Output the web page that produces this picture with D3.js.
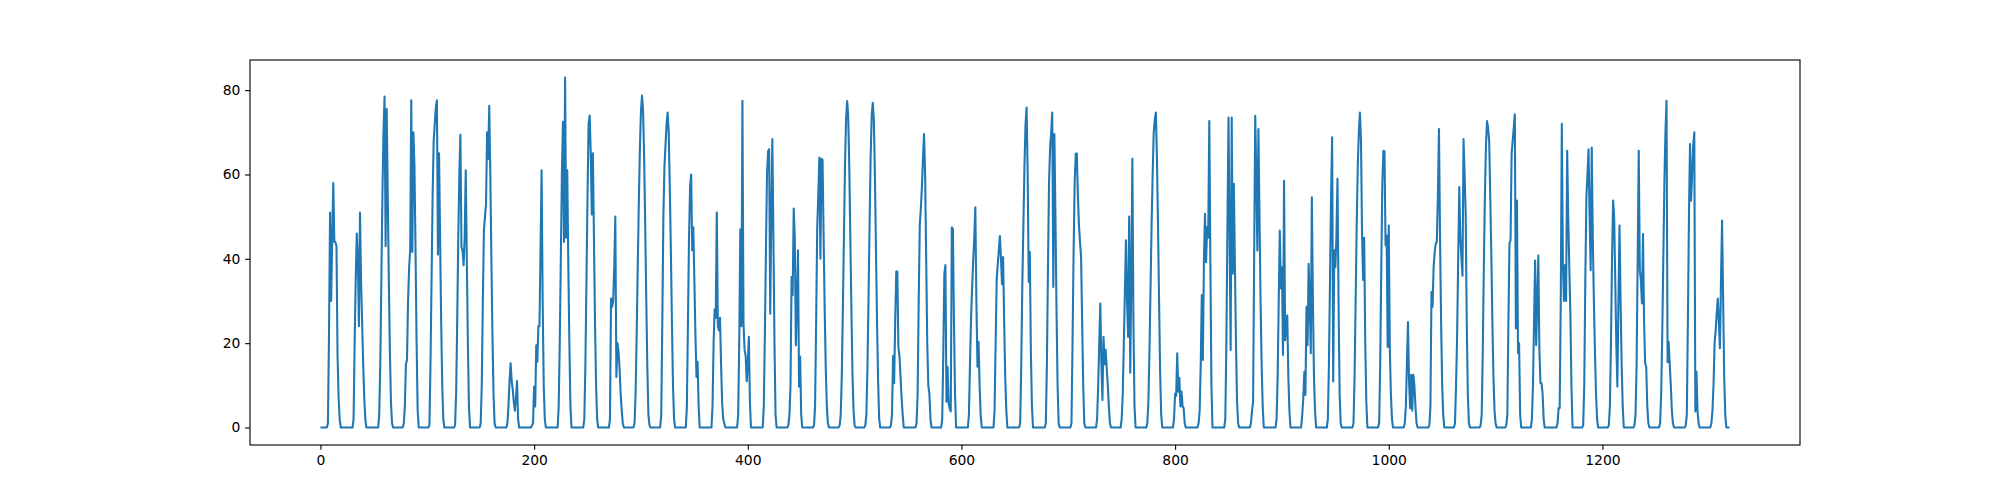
<!DOCTYPE html>
<html>
<head>
<meta charset="utf-8">
<script src="https://cdn.jsdelivr.net/npm/d3@7"></script>
<style>
  body { margin: 0; background: #fff; }
  svg { display: block; }
</style>
</head>
<body>
<svg></svg>
<script>
// hourly values, one row per day (24 values each)
const values = [
  0,0,0,0,0,0,0,1,22,51,30,45,58,44,44,43,17,7,2,0,0,0,0,0,
  0,0,0,0,0,0,0,2,20,35,46,40,24,51,35,25,15,7,2,0,0,0,0,0,
  0,0,0,0,0,0,0,3,15,35,55,70,78.5,43,75.5,55,35,18,6,1,0,0,0,0,
  0,0,0,0,0,0,1,5,15,16,30,38,42,77.6,41.6,70,62,42,20,4,0,0,0,0,
  0,0,0,0,0,0,0.5,15,35,55,68,72,76,77.6,41,65,45,25,10,2,0,0,0,0,
  0,0,0,0,0,0,0.5,8,25,45,60,69.4,42.8,42,38.5,45,61,40,20,5,0,0,0,0,
  0,0,0,0,0,0,1,10,30,46.7,50,53,70,63.7,76.3,60,40,22,8,1,0,0,0,0,
  0,0,0,0,0,0,0,1,5,11,15.2,11,9,6,4,7,11,2,0,0,0,0,0,0,
  0,0,0,0,0,0,0.5,1,9.7,5,19.5,15.6,24,24,42,61,30,10,2,0,0,0,0,0,
  0,0,0,0,0,0,0,5,20,40,60,72.5,44,83,45,61,39,20,5,0,0,0,0,0,
  0,0,0,0,0,0,0,2,15,35,55,72,74,65,50.5,65,45,25,10,2,0,0,0,0,
  0,0,0,0,0,0,0,2,30.6,28.6,30,38,50,12,20,18,14,8,4,1,0,0,0,0,
  0,0,0,0,0,0,1,8,22,38,53,66,75,78.7,75,64,48,30,14,3,0.5,0,0,0,
  0,0,0,0,0,0,0,3,25,50,62,67,72,74.7,70,57,42,25,10,2,0,0,0,0,
  0,0,0,0,0,0,0,5,25,45,57,60,42,47.5,35,22,12,15.6,5,0,0,0,0,0,
  0,0,0,0,0,0,0,5,20,28,26,51,24,23,26,15,6,2,1,0,0,0,0,0,
  0,0,0,0,0,0,0,3,20,47,24,77.5,24.7,18.4,17,11,15,21.5,6,0,0,0,0,0,
  0,0,0,0,0,0,0,5,22,42,60,65.5,66,27,50,68.4,45,20,3,0,0,0,0,0,
  0,0,0,0,0,0,0.5,3,10,35.7,31.4,51.9,45,19.5,30,42,9.7,16.8,3,0,0,0,0,0,
  0,0,0,0,0,0,0.5,5,25,47.5,55,64,40,63.7,63.5,45,28,14,5,1,0,0,0,0,
  0,0,0,0,0,0,0.5,3,12,28,45,62,73,77.4,74,62,45,28,13,4,0.5,0,0,0,
  0,0,0,0,0,0,0.5,3,14,30,48,64,74,77,73,60,42,25,11,2,0,0,0,0,
  0,0,0,0,0,0,0.5,3,17,10.5,25,37,37,19,17,12,7,3,0,0,0,0,0,0,
  0,0,0,0,0,0,1,8,30,48,52,57,64,69.6,60,40,20,10,8,2,0,0,0,0,
  0,0,0,0,0,0,2,17,36.5,38.5,6.1,14.4,5.8,4.5,3.8,47.5,47,25,8,0,0,0,0,0,
  0,0,0,0,0,0,0,3,15,25.8,33,39.6,45,52.2,30,14.4,20.3,10,3,0,0,0,0,0,
  0,0,0,0,0,0,0,4,20,35,38.8,42,45.4,40,34,40.4,25,12,4,0,0,0,0,0,
  0,0,0,0,0,0,0,1,15,34,48,62,72,75.9,60,34.5,41.6,18,5,0,0,0,0,0,
  0,0,0,0,0,0,0,1,15,38,58,66.4,70,74.7,33.3,69.6,50,28,10,1,0,0,0,0,
  0,0,0,0,0,0,0,1,20,42,58,64.9,65,55,48,44,40.4,25,10,1,0,0,0,0,
  0,0,0,0,0,0,0,2,10,20,29.4,15,6.5,21.5,15,18.4,14,10,5,1,0,0,0,0,
  0,0,0,0,0,0,2,8,20,32,44.4,30,21.5,50,13,35,63.7,25,5,0,0,0,0,0,
  0,0,0,0,0,0,1,6,18,33,48,60,70,73,74.7,64,48,30,13,3,0,0,0,0,
  0,0,0,0,0,0,0,2,8,7.5,17.6,8.5,11.7,5,8.5,5,4.6,1,0,0,0,0,0,0,
  0,0,0,0,0,0,1,4,15,31.4,16,40,50.7,39.2,47.5,45,72.7,40,10,0,0,0,0,0,
  0,0,0,0,0,0,0,2,20,48,73.5,45,18.4,73.5,36.5,57.8,38,20,6,1,0,0,0,0,
  0,0,0,0,0,0,0,1,4,6,40,73.9,60,42,70.8,50,30,15,5,0,0,0,0,0,
  0,0,0,0,0,0,0,2,12,30,46.7,33,38,17.2,58.5,20.7,24,26.6,12,4,0,0,0,0,
  0,0,0,0,0,0,0,3,7,13.2,7.7,28.6,19.5,38.8,30,17.6,54.6,30,12,4,0,0,0,0,
  0,0,0,0,0,0,0,2,15,35,55,68.8,10.9,42,38,45,59,30,8,1,0,0,0,0,
  0,0,0,0,0,0,0,1,12,30,48,62,70,74.7,68,46,35,45,20,6,0,0,0,0,
  0,0,0,0,0,0,0,1,15,38,58,65.6,65.5,43.2,45.5,19.1,47.9,18.7,8,2,0,0,0,0,
  0,0,0,0,0,0,0,1,5,15,25,10.9,4.6,12.5,4,12.5,10,5,1,0,0,0,0,0,
  0,0,0,0,0,0,0.5,5,32.2,28.6,38,41.6,43.6,44,55,70.8,45,25,10,3,0,0,0,0,
  0,0,0,0,0,0,1,10,22,40,57,45,40.4,36,68.4,60,50.7,25,8,1,0,0,0,0,
  0,0,0,0,0,0,0.5,3,18,38,55,67,72.7,71,68,55,41.2,25,12,4,1,0,0,0,
  0,0,0,0,0,0,0.5,3,25,43.6,44.4,64.9,68,71,74.3,23.5,53.8,17.6,20,3,0,0,0,0,
  0,0,0,0,0,0,2,10,25,39.6,19.5,30,40.8,18.4,10.5,10.5,8,2,0,0,0,0,0,0,
  0,0,0,0,0,0,1,4.6,4.6,30,72,38.8,30,38.5,30,65.6,50,38,27,10,0,0,0,0,
  0,0,0,0,0,0,0.5,10,35,54.6,60,66,50,37.3,66.4,45,30,18,8,2,0,0,0,0,
  0,0,0,0,0,0,0.5,5,20,40,53.8,49.9,35,20,9.7,30,47.9,30,15,5,0,0,0,0,
  0,0,0,0,0,0,0.5,3,15,40,65.6,37.3,35,29.4,45.9,25,15.2,14.4,5,1,0,0,0,0,
  0,0,0,0,0,0,1,8,22,40,58,70,77.5,15.5,20.3,15.2,10,4,1,0,0,0,0,0,
  0,0,0,0,0,0,0.5,3,25,50,67.2,53.8,60,67,70,3.8,13.2,4,1,0,0,0,0,0,
  0,0,0,0,0,0,1,4,10,20,23,27,30.6,25,18.8,35,49.1,30,12,3,0,0,0,0
];

// tick labels
const xTicks = [0, 200, 400, 600, 800, 1000, 1200];
const yTicks = [0, 20, 40, 60, 80];

// constants
const WIDTH = 2000;
const HEIGHT = 500;
const LEFT = 250;
const RIGHT = 1800;
const TOP = 60;
const BOTTOM = 445;
const PT = 100 / 72;

const svg = d3.select('svg')
    .attr('width', WIDTH)
    .attr('height', HEIGHT);

// scales with matplotlib-like 5% margins
const last = values.length - 1;
const maxV = d3.max(values);
const minV = d3.min(values);
const x = d3.scaleLinear()
    .domain([-0.05 * last, last * 1.05])
    .range([LEFT, RIGHT]);
const y = d3.scaleLinear()
    .domain([minV - 0.05 * (maxV - minV), maxV + 0.05 * (maxV - minV)])
    .range([BOTTOM, TOP]);

// line
const line = d3.line()
    .x((d, i) => x(i))
    .y(d => y(d));

svg.append('path')
    .datum(values)
    .attr('fill', 'none')
    .attr('stroke', '#1f77b4')
    .attr('stroke-width', 1.5 * PT)
    .attr('stroke-linejoin', 'round')
    .attr('d', line);

// axes
const xAxis = d3.axisBottom(x)
    .tickValues(xTicks)
    .tickSize(3.5 * PT)
    .tickPadding(3.5 * PT)
    .tickFormat(d3.format('d'));
const yAxis = d3.axisLeft(y)
    .tickValues(yTicks)
    .tickSize(3.5 * PT)
    .tickPadding(3.5 * PT)
    .tickFormat(d3.format('d'));

const gx = svg.append('g')
    .attr('transform', `translate(0, ${BOTTOM})`)
    .call(xAxis);
const gy = svg.append('g')
    .attr('transform', `translate(${LEFT}, 0)`)
    .call(yAxis);

[gx, gy].forEach(g => {
    g.select('.domain').remove();
    g.selectAll('.tick line')
        .attr('stroke', '#000')
        .attr('stroke-width', 0.8 * PT);
    g.selectAll('.tick text')
        .attr('fill', '#000')
        .attr('font-family', 'DejaVu Sans, sans-serif')
        .attr('font-size', 10 * PT);
});

// frame
svg.append('rect')
    .attr('x', LEFT)
    .attr('y', TOP)
    .attr('width', RIGHT - LEFT)
    .attr('height', BOTTOM - TOP)
    .attr('fill', 'none')
    .attr('stroke', '#000')
    .attr('stroke-width', 0.8 * PT);
</script>
</body>
</html>
